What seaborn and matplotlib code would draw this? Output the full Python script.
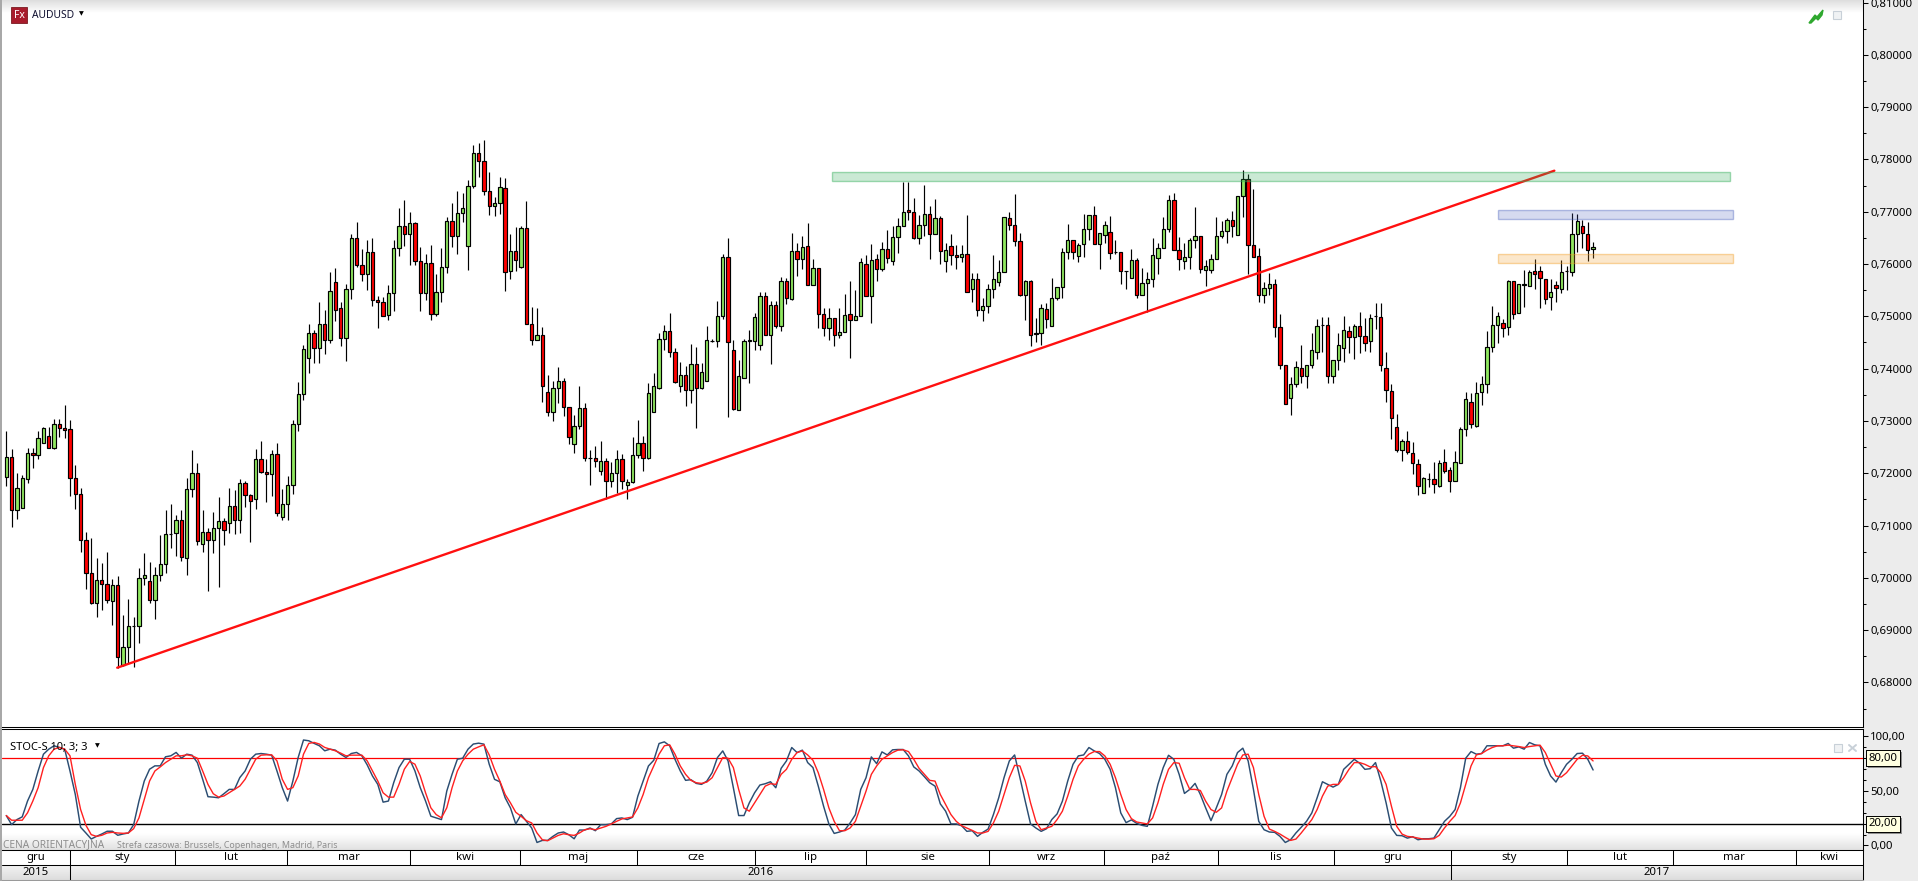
import numpy as np
import pandas as pd
import matplotlib
matplotlib.use("Agg")
import matplotlib.pyplot as plt
import matplotlib.patheffects as pe
from matplotlib.patches import Rectangle
from matplotlib.ticker import FuncFormatter, FixedLocator
from matplotlib.transforms import blended_transform_factory
import seaborn as sns

# ---------- DATA (prices in 1/10000) ----------
opens = [
7193,7231,7129,7133,7188,7238,7234,7257,7272,7249,
7295,7286,7284,7190,7161,7072,7010,6951,6995,6988,
6955,6986,6833,6867,6907,6907,6999,6993,6957,7005,
7026,7083,7085,7110,7037,7169,7200,7064,7087,7072,
7096,7108,7104,7137,7110,7182,7158,7150,7228,7202,
7198,7236,7117,7142,7177,7295,7351,7421,7469,7439,
7485,7454,7565,7515,7458,7553,7649,7599,7580,7622,
7532,7528,7502,7544,7630,7672,7657,7678,7605,7544,
7601,7504,7546,7595,7683,7653,7697,7635,7750,7813,
7796,7739,7710,7716,7746,7586,7624,7595,7668,7485,
7454,7465,7355,7317,7363,7376,7326,7256,7290,7325,
7229,7229,7204,7223,7185,7200,7227,7177,7183,7235,
7258,7229,7317,7363,7456,7472,7432,7367,7388,7359,
7409,7363,7376,7453,7453,7500,7613,7435,7321,7382,
7453,7453,7445,7539,7464,7521,7481,7567,7533,7625,
7609,7634,7560,7592,7504,7477,7497,7464,7470,7504,
7493,7500,7600,7539,7609,7590,7628,7605,7651,7672,
7703,7699,7649,7674,7695,7657,7688,7605,7634,7617,
7613,7619,7552,7571,7512,7519,7552,7565,7584,7688,
7674,7644,7540,7567,7468,7468,7514,7481,7535,7556,
7623,7646,7615,7638,7667,7693,7638,7655,7661,7622,
7623,7586,7573,7607,7540,7563,7571,7611,7630,7667,
7722,7626,7605,7613,7645,7653,7588,7588,7609,7653,
7663,7684,7655,7730,7762,7636,7615,7540,7554,7561,
7479,7407,7343,7370,7402,7385,7406,7431,7483,7484,
7385,7416,7440,7471,7460,7481,7463,7452,7500,7498,
7402,7358,7289,7245,7261,7238,7217,7163,7188,7188,
7175,7221,7207,7186,7219,7284,7337,7291,7356,7370,
7442,7484,7488,7479,7567,7507,7560,7557,7586,7586,
7572,7536,7559,7553,7586,7584,7658,7672,7658,7628]
closes = [
7231,7129,7171,7190,7238,7234,7268,7286,7249,7295,
7286,7282,7190,7161,7072,7010,6951,6995,6988,6957,
6986,6848,6867,6907,6908,6999,7005,6957,7005,7026,
7083,7083,7110,7039,7169,7200,7070,7087,7072,7096,
7108,7091,7137,7110,7182,7158,7146,7228,7202,7198,
7236,7123,7142,7177,7295,7351,7437,7469,7439,7485,
7454,7548,7513,7458,7553,7649,7599,7580,7622,7532,
7528,7500,7544,7630,7672,7658,7678,7605,7544,7601,
7504,7546,7595,7683,7653,7697,7708,7750,7813,7796,
7739,7710,7716,7748,7584,7624,7607,7668,7485,7454,
7465,7367,7317,7363,7376,7326,7269,7290,7325,7229,
7230,7223,7223,7185,7200,7227,7185,7183,7235,7258,
7229,7353,7367,7456,7472,7432,7374,7388,7359,7409,
7363,7393,7454,7453,7500,7613,7451,7323,7386,7453,
7454,7498,7539,7464,7521,7481,7567,7535,7625,7609,
7632,7560,7592,7504,7477,7497,7464,7470,7502,7493,
7500,7604,7539,7607,7590,7628,7611,7651,7672,7699,
7699,7649,7674,7695,7657,7688,7625,7626,7617,7613,
7619,7546,7571,7512,7519,7552,7571,7584,7690,7674,
7644,7540,7567,7464,7466,7516,7495,7535,7556,7623,
7646,7623,7636,7667,7693,7638,7659,7674,7621,7623,
7586,7587,7607,7540,7563,7571,7617,7630,7667,7722,
7626,7609,7613,7645,7653,7590,7596,7609,7653,7663,
7684,7672,7730,7762,7636,7613,7540,7554,7561,7479,
7407,7332,7370,7403,7385,7406,7435,7482,7484,7385,
7416,7446,7473,7460,7481,7463,7448,7496,7501,7406,
7360,7305,7245,7261,7240,7219,7175,7190,7189,7179,
7219,7204,7186,7221,7284,7341,7295,7354,7370,7442,
7484,7500,7477,7567,7505,7561,7561,7584,7580,7574,
7534,7547,7555,7584,7587,7658,7683,7660,7626,7632]
highs = [
7281,7247,7200,7196,7249,7249,7281,7289,7289,7303,
7303,7330,7302,7215,7171,7087,7077,7038,7029,7049,
6997,7003,6928,6959,6926,7019,7047,7031,7020,7081,
7129,7142,7121,7129,7190,7244,7219,7129,7096,7125,
7154,7114,7171,7168,7188,7186,7160,7247,7261,7228,
7244,7257,7169,7194,7301,7374,7445,7485,7474,7528,
7513,7584,7593,7528,7562,7657,7681,7628,7645,7649,
7538,7536,7559,7645,7708,7723,7700,7681,7632,7620,
7637,7581,7630,7689,7716,7739,7735,7760,7827,7831,
7837,7775,7729,7767,7765,7658,7670,7672,7721,7517,
7515,7479,7388,7376,7403,7382,7326,7311,7367,7334,
7244,7252,7261,7229,7221,7244,7237,7189,7269,7302,
7271,7372,7391,7468,7483,7506,7439,7412,7405,7447,
7441,7410,7482,7456,7530,7619,7649,7454,7416,7456,
7474,7506,7546,7546,7529,7529,7575,7573,7659,7640,
7653,7678,7609,7592,7516,7516,7497,7516,7542,7567,
7550,7611,7617,7638,7619,7642,7665,7672,7688,7757,
7757,7726,7693,7751,7711,7725,7691,7640,7657,7636,
7636,7693,7583,7583,7535,7561,7617,7607,7690,7699,
7734,7659,7569,7569,7496,7523,7525,7573,7556,7630,
7676,7646,7640,7695,7693,7710,7659,7682,7691,7645,
7623,7587,7628,7611,7592,7584,7649,7640,7689,7731,
7735,7651,7640,7649,7709,7653,7608,7619,7689,7682,
7688,7701,7730,7780,7772,7743,7630,7565,7582,7571,
7504,7407,7384,7414,7446,7406,7469,7494,7498,7498,
7416,7469,7500,7482,7486,7509,7496,7504,7525,7525,
7431,7370,7314,7265,7280,7259,7228,7192,7200,7221,
7225,7247,7211,7242,7288,7356,7354,7375,7385,7471,
7519,7509,7494,7570,7567,7561,7589,7589,7609,7597,
7572,7572,7568,7607,7597,7697,7695,7685,7681,7643]
lows = [
7175,7098,7113,7133,7182,7209,7228,7257,7249,7247,
7270,7268,7157,7132,7049,6979,6949,6926,6938,6951,
6909,6827,6832,6837,6829,6876,6986,6951,6921,6993,
7009,7057,7042,7033,7005,7154,7062,7050,6974,7047,
6983,7063,7085,7083,7085,7135,7069,7132,7200,7145,
7157,7119,7110,7110,7161,7281,7340,7392,7410,7411,
7427,7448,7491,7444,7415,7534,7594,7568,7551,7520,
7478,7500,7493,7511,7616,7634,7599,7599,7511,7532,
7492,7500,7528,7583,7633,7620,7681,7589,7746,7767,
7732,7693,7692,7696,7549,7572,7586,7593,7485,7446,
7454,7337,7309,7299,7335,7310,7255,7238,7284,7223,
7177,7212,7196,7151,7174,7162,7170,7151,7181,7229,
7204,7227,7317,7361,7436,7422,7372,7356,7329,7335,
7286,7361,7376,7451,7442,7495,7307,7321,7321,7382,
7372,7435,7435,7464,7408,7477,7471,7523,7531,7578,
7591,7560,7560,7477,7462,7454,7443,7458,7470,7421,
7493,7500,7539,7488,7568,7586,7602,7598,7621,7672,
7684,7647,7638,7654,7609,7657,7600,7584,7598,7590,
7604,7546,7527,7500,7491,7506,7535,7558,7584,7665,
7635,7538,7493,7444,7451,7446,7477,7481,7531,7535,
7609,7609,7603,7613,7645,7638,7590,7640,7609,7620,
7561,7553,7573,7535,7540,7509,7556,7581,7630,7661,
7626,7588,7590,7590,7630,7582,7558,7582,7609,7650,
7640,7651,7655,7689,7581,7613,7527,7525,7540,7460,
7399,7332,7311,7364,7372,7362,7402,7419,7431,7372,
7372,7398,7412,7429,7418,7429,7433,7431,7475,7395,
7337,7266,7240,7223,7236,7198,7159,7163,7173,7163,
7173,7200,7165,7186,7219,7272,7286,7289,7331,7353,
7431,7448,7460,7465,7494,7507,7518,7557,7553,7515,
7523,7513,7528,7544,7551,7578,7622,7630,7605,7612]
stoch_k = [
27.4,19.1,23.7,26.2,40.7,51.4,68.3,83.7,88.3,91.4,
89.9,88.3,68.3,46.8,16.7,11.4,5.9,8.3,10.5,13,
13,9.3,10.5,11.4,19.1,40.7,59.1,69.9,73,73,
81.3,82.2,85.3,80,83.7,82.8,76,60.7,44.7,44.3,
43.7,47.4,51.4,51.4,62.2,68.3,79.1,83.7,84.3,83.7,
82.8,68.3,53,40.7,59.1,80.7,96.7,96,93.6,91.4,
86.8,88.3,87.4,83.7,80.7,84.3,85.3,82.2,73.9,63.7,
56,39.7,40.7,57.6,71.4,79.1,79.1,68.3,53,40.7,
26.8,25.3,23.7,49.9,65.3,79.1,80,88.3,93,93.8,
92.9,74.4,60.6,58.4,43.7,34.4,19.7,28.3,22.1,16,
2.7,4.6,4.6,8.3,11.4,12.3,9.8,6.1,14.1,14.1,
16,13.5,19,19,19.7,24.6,25.2,23.7,25.8,45.2,
59,72.9,78.1,93.5,95,91.4,79,68.3,59.7,60.3,
56.9,56,59,66.7,80.6,86.7,77.5,52.9,27.4,27.4,
39,48.3,55.4,56.6,58.4,52.9,70.7,77.5,89.8,85.2,
87.4,76,71.4,54.4,36,19.7,11,12.3,14.1,20.6,
28.3,51.4,62.1,81.2,75,85.8,83,87.7,88,88,
82.1,72,68.3,63,57.5,54.4,38.1,31.4,19.7,19.7,
18.1,12.9,13.5,8.3,12,15,28.3,43.7,62.1,77.5,
83,62.1,40.6,19.7,16,12.9,15.3,23.7,28.9,40.6,
59,74.4,82.1,83,89.8,86.7,84.3,79,69.8,52.9,
29.8,20.9,23.4,20.3,18.4,17.5,36,56,71.4,82.7,
79,65.2,47.7,51.4,56.9,46.7,34.4,22.7,34.4,46.7,
65.2,72.9,85.2,89.2,77.5,51.4,22.1,14.4,12.3,12,
8.3,2.7,5.2,11.4,16.6,22.1,29.8,43.7,58.4,56,
53.5,56,69.8,74.4,79,75.4,69.8,70.4,76,59,
39,16,9.2,8.9,6.7,8,5.2,6.1,6.1,6.7,
14.4,22.1,26.7,32.9,52.9,80,86.1,83.7,84.3,91.4,
91.4,91.4,91.4,93.5,89.2,90.4,88.3,94.4,92.3,91.4,
74.4,63.7,58.1,66.7,74.4,79,84.3,84.6,79,69.2]
stoch_d = [
27.4,23.1,23.1,23.1,29.9,40.7,53,71.4,82.2,88.3,
89.9,88.3,82.2,56,33,18.5,9.9,8.3,9.3,11.4,
12,11.4,11.1,11.4,15.4,25.3,42.2,59.1,68.3,72,
76,79.1,82.2,82.2,83.1,82.2,80,68.3,56,47.4,
44.3,45.3,48.3,51.4,54.5,60.7,69.9,79.1,82.8,83.1,
83.1,77.6,60.7,51.4,53,63.7,83.7,93.6,94.5,93,
89.9,88.3,86.8,84.7,82.2,82.8,82.8,82.8,77.6,68.3,
59.1,48.3,44.3,44.3,56,69.9,77,74.5,63.7,48.3,
34.5,28.3,25.3,34.5,53,68.3,77.6,83.7,88.3,90.4,
92.3,83,69.8,59,46.7,39,30.4,26.7,22.7,20.6,
11.4,5.2,4.3,6.7,9.2,10.7,9.8,9.2,11.4,14.4,
15.3,14.4,16,17.5,19.7,22.1,24.3,25.2,26.1,34.4,
46.7,62.1,72.9,83.7,91.4,92.3,83.7,72.9,65.2,59.7,
57.5,56.9,58.1,62.1,71.4,80.6,80,71.4,51.4,34.4,
31.4,39,46.7,54.4,56.6,56,65.2,69.8,79,85.2,
86.7,83,78.1,66.7,51.4,34.4,22.1,13.5,13.5,16,
22.1,36,49.8,65.2,72.9,79,82.1,85.2,87.4,87.7,
86.1,79,70.7,65.2,59.7,59,46.7,37.5,28.3,22.1,
18.1,16,13.8,11.4,11.4,12.9,20.6,31.4,46.7,62.1,
73.5,72.9,59,39,22.1,14.4,16,17.5,23.7,31.4,
45.2,60.6,72.9,79,83.7,86.1,86.1,82.1,74.4,62.1,
46.7,32.9,24.6,21.5,20.6,19.7,25.2,39,56,69.8,
76,75.4,62.1,51.4,51.4,50.4,40.6,32.9,30.4,34.4,
49.8,62.1,74.4,83,83.7,71.4,46.7,26.7,15,12.9,
10.4,7.4,4.6,5.8,11.4,17.5,23.7,32.9,45.2,54.4,
56,56,62.1,69.8,76,76,74.4,72,72.3,66.7,
56,36,17.5,10.4,8.3,7.7,6.7,5.8,5.8,6.1,
9.2,16,22.1,27.4,39,56,72.9,83,84.3,87.4,
89.8,91.4,91.4,92,91.4,90.7,89.8,90.7,91.4,92,
85.2,74.4,63.7,62.7,66.7,72.9,79,82.7,82.1,77.5]

trend_x = [20.9, 291.7]
trend_y = [0.68281, 0.77784]
zone_green = (155.6, 324.8, 0.77593, 0.77759)
zone_blue = (281.1, 325.3, 0.76866, 0.77027)
zone_orange = (281.1, 325.3, 0.76025, 0.76185)

month_edges = [12.0, 31.8, 52.9, 76.1, 96.8, 118.8, 141.1, 162.0, 185.2,
               206.8, 228.3, 250.2, 272.2, 294.0, 314.0, 337.2]
month_labels = ["gru", "sty", "lut", "mar", "kwi", "maj", "cze", "lip", "sie",
                "wrz", "paź", "lis", "gru", "sty", "lut", "mar", "kwi"]
year_edges = [12.0, 272.2]
year_labels = ["2015", "2016", "2017"]
price_ticks = [0.68, 0.69, 0.70, 0.71, 0.72, 0.73, 0.74, 0.75, 0.76, 0.77, 0.78, 0.79, 0.80, 0.81]

# ---------- STYLE ----------
sns.set_theme(style="white")
plt.rcParams["font.family"] = ["Noto Sans", "DejaVu Sans"]
W, H = 1918, 881
FS = 8.2
GREEN, RED, INK = "#90e860", "#ff0000", "#000000"

fig = plt.figure(figsize=(W / 100, H / 100), dpi=100, facecolor="white")


def rect(l, t, r, b):
    return [l / W, 1 - b / H, (r - l) / W, (b - t) / H]


# background chrome
bg = fig.add_axes([0, 0, 1, 1], zorder=-1)
bg.set_xlim(0, W); bg.set_ylim(H, 0); bg.axis("off")
bg.add_patch(Rectangle((1863, 0), 55, H, fc="#ececec", ec="none"))
bg.add_patch(Rectangle((0, 0), 2, H, fc="#a8a8a8", ec="none"))


def grad(l, t, r, b, c0, c1):
    g = np.linspace(c0, c1, 32).reshape(-1, 1)
    bg.imshow(g, extent=(l, r, b, t), cmap="gray", vmin=0, vmax=1, aspect="auto", origin="upper")


grad(2, 0, 1863, 13, 0.87, 1.0)
grad(2, 833, 1863, 850, 1.0, 0.88)
grad(2, 865, 1863, 881, 0.95, 0.86)
bg.set_xlim(0, W); bg.set_ylim(H, 0)

x_left = (2 - 6.3) / 5.307
x_right = (1863 - 6.3) / 5.307

# ---------- PRICE PANEL ----------
ax = fig.add_axes(rect(2, 0, 1863, 727), facecolor="none", zorder=2)
idx = np.arange(len(opens))
o, c, h, l = [np.array(a) / 1e4 for a in (opens, closes, highs, lows)]
ax.vlines(idx, l, h, color=INK, lw=0.85, zorder=2)
up = c >= o
ax.bar(idx, np.abs(c - o), bottom=np.minimum(o, c), width=0.63,
       color=[GREEN if u else RED for u in up], edgecolor=INK, linewidth=0.85, zorder=3)
sns.lineplot(x=trend_x, y=trend_y, ax=ax, color="#ff1010", lw=1.7, zorder=4, legend=False)
for (x0, x1, y0, y1), fc, ec in [
    (zone_green, (0.2, 0.68, 0.35, 0.26), (0.2, 0.68, 0.35, 0.45)),
    (zone_blue, (0.25, 0.35, 0.72, 0.22), (0.25, 0.35, 0.72, 0.38)),
    (zone_orange, (0.95, 0.62, 0.15, 0.24), (0.95, 0.62, 0.15, 0.42)),
]:
    ax.add_patch(Rectangle((x0, y0), x1 - x0, y1 - y0, fc=fc, ec=ec, lw=1.0, zorder=5))
ax.set_xlim(x_left, x_right)
ax.set_ylim(0.76 - 463 / 5230, 0.76 + 264 / 5230)
ax.set_xlabel(""); ax.set_ylabel("")
ax.set_xticks([])
ax.yaxis.tick_right()
ax.yaxis.set_major_locator(FixedLocator(price_ticks))
ax.yaxis.set_minor_locator(FixedLocator([t + 0.005 for t in price_ticks[:-1]] + [0.675]))
ax.yaxis.set_major_formatter(FuncFormatter(lambda v, _: f"{v:.5f}".replace(".", ",")))
ax.tick_params(axis="y", which="major", right=True, length=3.6, width=0.75, pad=1.6,
               labelsize=FS, colors=INK)
ax.tick_params(axis="y", which="minor", right=True, length=2.5, width=0.75, colors=INK)
for s in ("left", "top"):
    ax.spines[s].set_visible(False)
for s in ("right", "bottom"):
    ax.spines[s].set_color(INK); ax.spines[s].set_linewidth(0.75)

# ---------- STOCHASTIC PANEL ----------
ax2 = fig.add_axes(rect(2, 729, 1863, 850), facecolor="none", zorder=2)
ax2.axhline(80, color="#ff0000", lw=0.9, zorder=1)
ax2.axhline(20, color=INK, lw=1.0, zorder=1)
stoch = pd.DataFrame({"day": idx, "K": stoch_k, "D": stoch_d})
sns.lineplot(data=stoch, x="day", y="K", ax=ax2, color="#2b4d72", lw=1.05, legend=False, zorder=2)
sns.lineplot(data=stoch, x="day", y="D", ax=ax2, color="#ff2020", lw=1.0, legend=False, zorder=3)
ax2.set_xlim(x_left, x_right)
ax2.set_ylim(-4.2, 106.8)
ax2.set_xlabel(""); ax2.set_ylabel("")
ax2.set_xticks([])
ax2.yaxis.tick_right()
ax2.yaxis.set_major_locator(FixedLocator([0, 50, 100]))
ax2.yaxis.set_minor_locator(FixedLocator([10, 20, 30, 40, 60, 70, 80, 90]))
ax2.yaxis.set_major_formatter(FuncFormatter(lambda v, _: f"{v:.2f}".replace(".", ",")))
ax2.tick_params(axis="y", which="major", right=True, length=3.6, width=0.75, pad=1.6,
                labelsize=FS, colors=INK)
ax2.tick_params(axis="y", which="minor", right=True, length=2.5, width=0.75, colors=INK)
for s in ("left", "bottom"):
    ax2.spines[s].set_visible(False)
for s in ("right", "top"):
    ax2.spines[s].set_color(INK); ax2.spines[s].set_linewidth(0.75)
tr = blended_transform_factory(ax2.transAxes, ax2.transData)
for v, lab in [(80, "80,00"), (20, "20,00")]:
    t = ax2.text(1 + 5.5 / 1861, v, lab, transform=tr, fontsize=FS, va="center", ha="left",
                 color=INK, zorder=10, clip_on=False,
                 bbox=dict(boxstyle="square,pad=0.22", fc="#ffffe1", ec=INK, lw=0.7))
    t.get_bbox_patch().set_path_effects(
        [pe.withSimplePatchShadow(offset=(1.6, -1.6), shadow_rgbFace="#777777", alpha=0.8), pe.Normal()])

# ---------- TIME ROWS ----------
ax3 = fig.add_axes(rect(2, 850, 1863, 880), facecolor="none", zorder=2)
ax3.set_xlim(x_left, x_right); ax3.set_ylim(0, 2)
ax3.set_xticks([]); ax3.set_yticks([])
ax3.vlines(month_edges, 1, 2, color=INK, lw=0.75)
ax3.vlines(year_edges[1:], 0, 1, color=INK, lw=0.75)
ax3.vlines(year_edges[:1], 0, 1, color=INK, lw=0.75)
ax3.axhline(1, color=INK, lw=0.75)
for s in ("left",):
    ax3.spines[s].set_visible(False)
ax3.spines["top"].set_color(INK); ax3.spines["top"].set_linewidth(0.75)
ax3.spines["right"].set_color(INK); ax3.spines["right"].set_linewidth(0.75)
ax3.spines["bottom"].set_color("#9a9a9a"); ax3.spines["bottom"].set_linewidth(0.75)
me = [x_left] + month_edges + [x_right]
for a, b, lab in zip(me[:-1], me[1:], month_labels):
    ax3.text((a + b) / 2, 1.5, lab, ha="center", va="center", fontsize=FS, color=INK)
ye = [x_left] + year_edges + [x_right]
for a, b, lab in zip(ye[:-1], ye[1:], year_labels):
    ax3.text((a + b) / 2, 0.5, lab, ha="center", va="center", fontsize=FS, color=INK)

# ---------- OVERLAY TEXT & ICONS ----------
ov = fig.add_axes([0, 0, 1, 1], facecolor="none", zorder=6)
ov.set_xlim(0, W); ov.set_ylim(H, 0); ov.axis("off")
ov.add_patch(Rectangle((11, 7), 16, 16, fc="#a81c2c", ec="#7a1a20", lw=0.6))
ov.text(19, 15, "Fx", color="white", fontsize=7.5, fontweight="bold", ha="center", va="center")
ov.text(31.5, 15, "AUDUSD", color="#101030", fontsize=7.4, ha="left", va="center")
ov.text(81, 13.5, "▼", color=INK, fontsize=4.5, ha="center", va="center", family="DejaVu Sans")
ov.text(10.5, 747, "STOC-S 10; 3; 3", color=INK, fontsize=8.0, ha="left", va="center")
ov.text(97, 745.5, "▼", color=INK, fontsize=4.5, ha="center", va="center", family="DejaVu Sans")
ov.text(3, 845, "CENA ORIENTACYJNA", color="#8e8e8e", fontsize=7.3, ha="left", va="center")
ov.text(117, 845, "Strefa czasowa: Brussels, Copenhagen, Madrid, Paris", color="#8e8e8e",
        fontsize=6.4, ha="left", va="center")
ov.fill([1809, 1815, 1817, 1823, 1822, 1818, 1816, 1811], [23, 15, 17, 10, 15, 20, 18, 23], color="#2ea82e")
ov.add_patch(Rectangle((1833, 11), 8, 8, fc="#f0f2f4", ec="#c8d0d8", lw=0.8))
ov.add_patch(Rectangle((1833.5, 744), 8, 8, fc="#f0f2f4", ec="#c8d0d8", lw=0.8))
ov.plot([1849, 1856], [745, 751], color="#c8d0d8", lw=1.4)
ov.plot([1849, 1856], [751, 745], color="#c8d0d8", lw=1.4)

fig.savefig("out.png", dpi=100)
